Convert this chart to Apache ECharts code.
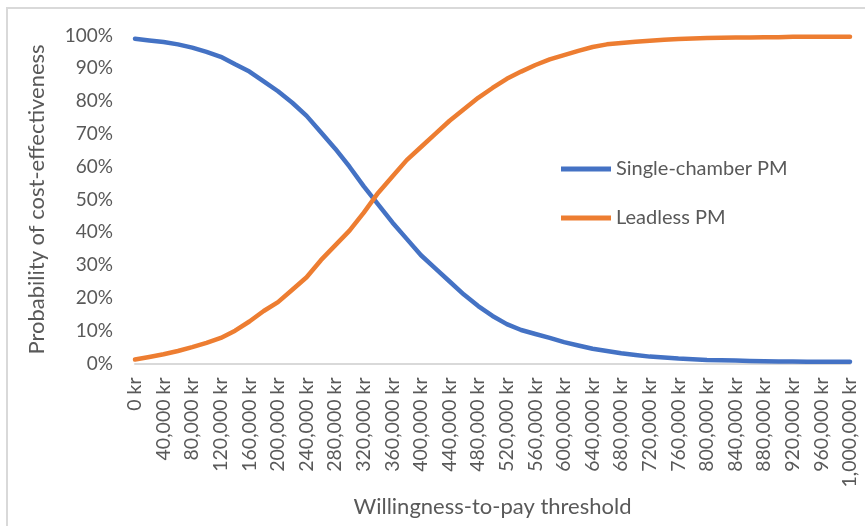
<!DOCTYPE html>
<html>
<head>
<meta charset="utf-8">
<script src="https://cdn.jsdelivr.net/npm/echarts@6/dist/echarts.min.js"></script>
<style>
  html, body { margin: 0; padding: 0; background: #fff; }
  #chart { width: 865px; height: 526px; }
</style>
</head>
<body>
<div id="chart"></div>
<script>
// willingness-to-pay thresholds, 20,000 kr steps
const thresholds = [
  0, 20000, 40000, 60000, 80000, 100000, 120000, 140000, 160000, 180000,
  200000, 220000, 240000, 260000, 280000, 300000, 320000, 340000, 360000, 380000,
  400000, 420000, 440000, 460000, 480000, 500000, 520000, 540000, 560000, 580000,
  600000, 620000, 640000, 660000, 680000, 700000, 720000, 740000, 760000, 780000,
  800000, 820000, 840000, 860000, 880000, 900000, 920000, 940000, 960000, 980000,
  1000000
]

// probability of cost-effectiveness, %
const singleChamber = [
  99, 98.5, 98, 97.3, 96.3, 95, 93.5, 91.2, 89, 86,
  83, 79.5, 75.5, 70.5, 65.5, 60, 54, 48.5, 43, 38,
  33, 29, 25, 21, 17.5, 14.5, 12, 10.2, 9, 7.8,
  6.5, 5.5, 4.5, 3.8, 3.1, 2.6, 2.1, 1.8, 1.5, 1.3,
  1.1, 1, 0.9, 0.8, 0.7, 0.6, 0.6, 0.5, 0.5, 0.5,
  0.5
]
const leadless = [
  1.2, 2, 2.8, 3.8, 5, 6.3, 7.8, 10, 12.8, 16,
  18.7, 22.5, 26.3, 31.5, 36, 40.5, 46, 52, 57, 62,
  66, 70, 74, 77.5, 81, 84, 86.8, 89, 91, 92.7,
  94, 95.3, 96.5, 97.3, 97.7, 98.1, 98.4, 98.7, 98.9, 99.1,
  99.2, 99.3, 99.4, 99.4, 99.5, 99.5, 99.6, 99.6, 99.6, 99.6,
  99.6
]

const yTicks = { min: 0, max: 100, interval: 10 }

const textColor = '#595959'
const font = 'Lato, "Open Sans", sans-serif'

function fmtKr(v) {
  return Number(v).toLocaleString('en-US') + ' kr'
}

const chartDom = document.getElementById('chart')
const myChart = echarts.init(chartDom)

const option = {
  animation: false,
  textStyle: { fontFamily: font, color: textColor },
  graphic: [
    {
      type: 'rect',
      shape: { x: 7, y: 8, width: 880, height: 540 },
      style: { fill: 'none', stroke: '#d9d9d9', lineWidth: 2 }
    }
  ],
  legend: {
    orient: 'vertical',
    left: 556,
    top: 153,
    itemWidth: 50,
    itemHeight: 5,
    itemGap: 27,
    icon: 'rect',
    textStyle: { fontFamily: font, fontSize: 20, color: textColor, lineHeight: 22 },
    data: ['Single-chamber PM', 'Leadless PM']
  },
  grid: {
    left: 135,
    right: 15,
    top: 35.5,
    bottom: 162.5
  },
  xAxis: {
    type: 'category',
    boundaryGap: false,
    data: thresholds,
    name: 'Willingness-to-pay threshold',
    nameLocation: 'middle',
    nameGap: 121,
    nameTextStyle: { fontFamily: font, fontSize: 22, color: textColor },
    axisLine: { lineStyle: { color: '#d9d9d9', width: 2 } },
    axisTick: { show: false },
    axisLabel: {
      interval: 1,
      rotate: 90,
      margin: 14,
      fontSize: 19.5,
      fontFamily: font,
      color: textColor,
      formatter: fmtKr
    }
  },
  yAxis: {
    type: 'value',
    min: yTicks.min,
    max: yTicks.max,
    interval: yTicks.interval,
    name: 'Probability of cost-effectiveness',
    nameLocation: 'middle',
    nameRotate: 90,
    nameGap: 87,
    nameTextStyle: { fontFamily: font, fontSize: 22, color: textColor },
    axisLine: { show: false },
    axisTick: { show: false },
    splitLine: { show: false },
    axisLabel: {
      margin: 22,
      fontSize: 19,
      fontFamily: font,
      color: textColor,
      formatter: '{value}%'
    }
  },
  series: [
    {
      name: 'Single-chamber PM',
      type: 'line',
      data: singleChamber,
      showSymbol: false,
      lineStyle: { color: '#4472C4', width: 4.5, cap: 'round' },
      itemStyle: { color: '#4472C4' }
    },
    {
      name: 'Leadless PM',
      type: 'line',
      data: leadless,
      showSymbol: false,
      lineStyle: { color: '#ED7D31', width: 4.5, cap: 'round' },
      itemStyle: { color: '#ED7D31' }
    }
  ]
}

option && myChart.setOption(option)
</script>
</body>
</html>
